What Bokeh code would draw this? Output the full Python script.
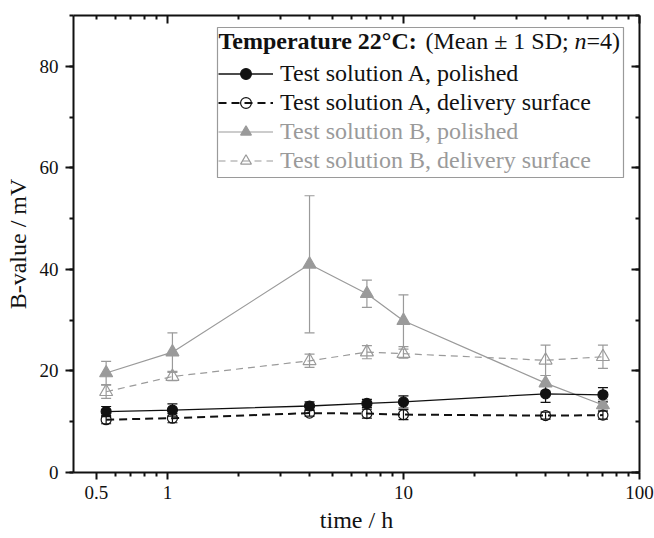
from bokeh.plotting import figure
from bokeh.models import (ColumnDataSource, Whisker, TeeHead, Range1d, FixedTicker,
                          SingleIntervalTicker, LogAxis, LinearAxis, CustomJSTickFormatter,
                          Legend, LegendItem, Label, BoxAnnotation)
from bokeh.embed import file_html
from bokeh.resources import INLINE

# ---------------- data ----------------
time_h = [0.55, 1.05, 4, 7, 10, 40, 70]

a_polished = [12.0, 12.3, 13.1, 13.6, 13.9, 15.5, 15.3]
a_polished_sd = [1.0, 1.2, 0.8, 0.8, 1.2, 1.7, 1.4]

a_delivery = [10.4, 10.7, 11.7, 11.6, 11.4, 11.2, 11.3]
a_delivery_sd = [0.8, 0.9, 0.6, 0.9, 1.0, 0.7, 0.8]

b_polished = [19.6, 23.7, 41.0, 35.2, 29.9, 17.6, 13.3]
b_polished_sd = [2.3, 3.8, 13.5, 2.7, 5.1, 1.5, 1.0]

b_delivery = [15.9, 18.9, 22.0, 23.7, 23.4, 22.1, 22.8]
b_delivery_sd = [1.3, 0.8, 1.3, 1.3, 0.9, 3.0, 2.3]

series_labels = ["Test solution A, polished", "Test solution A, delivery surface",
                 "Test solution B, polished", "Test solution B, delivery surface"]

x_major_ticks = [0.5, 1, 10, 100]
x_tick_labels = ["0.5", "1", "10", "100"]
x_minor_ticks = [0.6, 0.7, 0.8, 0.9, 2, 3, 4, 5, 6, 7, 8, 9,
                 20, 30, 40, 50, 60, 70, 80, 90]
top_major_ticks = [1, 10, 100]
top_minor_ticks = [0.5, 0.6, 0.7, 0.8, 0.9, 2, 3, 4, 5, 6, 7, 8, 9,
                   20, 30, 40, 50, 60, 70, 80, 90]

title_bold = "Temperature 22°C:"
title_rest = "(Mean ± 1 SD;"
title_n = "n"
title_end = "=4)"

FONT = "Liberation Serif"
BLACK = "#111111"
GRAY = "#9a9a9a"


def src(y, sd):
    return ColumnDataSource(dict(t=time_h, y=y,
                                 upper=[v + s for v, s in zip(y, sd)],
                                 lower=[v - s for v, s in zip(y, sd)]))


p = figure(width=654, height=538, x_axis_type="log",
           x_range=Range1d(0.4, 100), y_range=Range1d(0, 90),
           output_backend="svg", toolbar_location=None,
           min_border_left=73, min_border_right=15, min_border_top=15,
           min_border_bottom=66, background_fill_color="white",
           border_fill_color="white")
p.outline_line_color = None
p.grid.visible = False

# ---------------- axes ----------------
xb = p.xaxis[0]
xb.ticker = FixedTicker(ticks=x_major_ticks, minor_ticks=x_minor_ticks)
xb.formatter = CustomJSTickFormatter(args=dict(vals=x_major_ticks, labs=x_tick_labels),
                                     code="const i = vals.indexOf(tick); return i >= 0 ? labs[i] : '';")
xb.axis_label = "time / h"
yl = p.yaxis[0]
yl.ticker = SingleIntervalTicker(interval=20, num_minor_ticks=2)
yl.axis_label = "B-value / mV"

for ax, tin, tout in ((xb, 0, 7), (yl, 0, 8)):
    ax.axis_line_width = 2
    ax.axis_line_color = BLACK
    ax.major_tick_line_width = 2
    ax.minor_tick_line_width = 2
    ax.major_tick_line_color = BLACK
    ax.minor_tick_line_color = BLACK
    ax.major_tick_in = 0
    ax.major_tick_out = tout
    ax.minor_tick_in = 0
    ax.minor_tick_out = 4
    ax.major_label_text_font = FONT
    ax.major_label_text_font_size = "19px"
    ax.major_label_text_color = BLACK
    ax.axis_label_text_font = FONT
    ax.axis_label_text_font_size = "24px"
    ax.axis_label_text_font_style = "normal"
    ax.axis_label_text_color = BLACK
xb.major_label_standoff = 6
xb.axis_label_standoff = 5
yl.major_label_standoff = 7
yl.axis_label_standoff = 6

top = LogAxis(ticker=FixedTicker(ticks=top_major_ticks, minor_ticks=top_minor_ticks),
              formatter=CustomJSTickFormatter(code="return '';"))
right = LinearAxis(ticker=SingleIntervalTicker(interval=20, num_minor_ticks=2),
                   formatter=CustomJSTickFormatter(code="return '';"))
for ax in (top, right):
    ax.axis_line_width = 2
    ax.axis_line_color = BLACK
    ax.major_tick_line_width = 2
    ax.minor_tick_line_width = 2
    ax.major_tick_line_color = BLACK
    ax.minor_tick_line_color = BLACK
    ax.major_tick_in = 8
    ax.major_tick_out = 0
    ax.minor_tick_in = 4
    ax.minor_tick_out = 0
    ax.major_label_standoff = 0
    ax.major_label_text_font_size = "8px"
p.add_layout(top, "above")
p.add_layout(right, "right")

# ---------------- series ----------------
specs = [
    (b_polished, b_polished_sd, GRAY, "solid", 1.2, "triangle", GRAY, 13),
    (b_delivery, b_delivery_sd, GRAY, "7 5", 1.2, "triangle", None, 13),
    (a_polished, a_polished_sd, BLACK, "solid", 1.3, "circle", BLACK, 10),
    (a_delivery, a_delivery_sd, BLACK, "8 5", 2.0, "circle", None, 10),
]
rend = []
for y, sd, col, dash, lw, mk, fill, size in specs:
    s = src(y, sd)
    w = Whisker(source=s, base="t", upper="upper", lower="lower", dimension="height",
                line_color=col, line_width=1.2,
                upper_head=TeeHead(size=10, line_color=col, line_width=1.2),
                lower_head=TeeHead(size=10, line_color=col, line_width=1.2))
    w.level = "underlay"
    p.add_layout(w)
    ln = p.line("t", "y", source=s, line_color=col, line_width=lw, line_dash=dash)
    sc = p.scatter("t", "y", source=s, marker=mk, size=size, line_color=col,
                   line_width=1.2, fill_color=fill)
    rend.append((ln, sc))

# ---------------- legend ----------------
box = BoxAnnotation(left=144, right=550, bottom=295, top=445,
                    left_units="screen", right_units="screen",
                    bottom_units="screen", top_units="screen",
                    fill_color=None, fill_alpha=0, line_color="#9a9a9a",
                    line_alpha=1, line_width=1.2)
p.add_layout(box)

title_y = 432
for txt, xx, style in ((title_bold, 145, "bold"), (title_rest, 352, "normal"),
                       (title_n, 501, "italic"), (title_end, 513, "normal")):
    p.add_layout(Label(x=xx, y=title_y, x_units="screen", y_units="screen", text=txt,
                       text_font=FONT, text_font_style=style, text_font_size="24px",
                       text_color=BLACK, text_baseline="middle"))


def make_legend(items, color, loc):
    lg = Legend(items=items, location=loc, orientation="vertical",
                label_text_font=FONT, label_text_font_size="24px",
                label_text_color=color, glyph_width=55, glyph_height=27,
                label_height=27, spacing=2, label_standoff=7, padding=0,
                margin=0, border_line_color=None, background_fill_alpha=0)
    p.add_layout(lg)


make_legend([LegendItem(label=series_labels[0], renderers=list(rend[2])),
             LegendItem(label=series_labels[1], renderers=list(rend[3]))],
            BLACK, (145, 356))
make_legend([LegendItem(label=series_labels[2], renderers=list(rend[0])),
             LegendItem(label=series_labels[3], renderers=list(rend[1]))],
            GRAY, (145, 298))

open("out.html", "w").write(file_html(p, INLINE))
